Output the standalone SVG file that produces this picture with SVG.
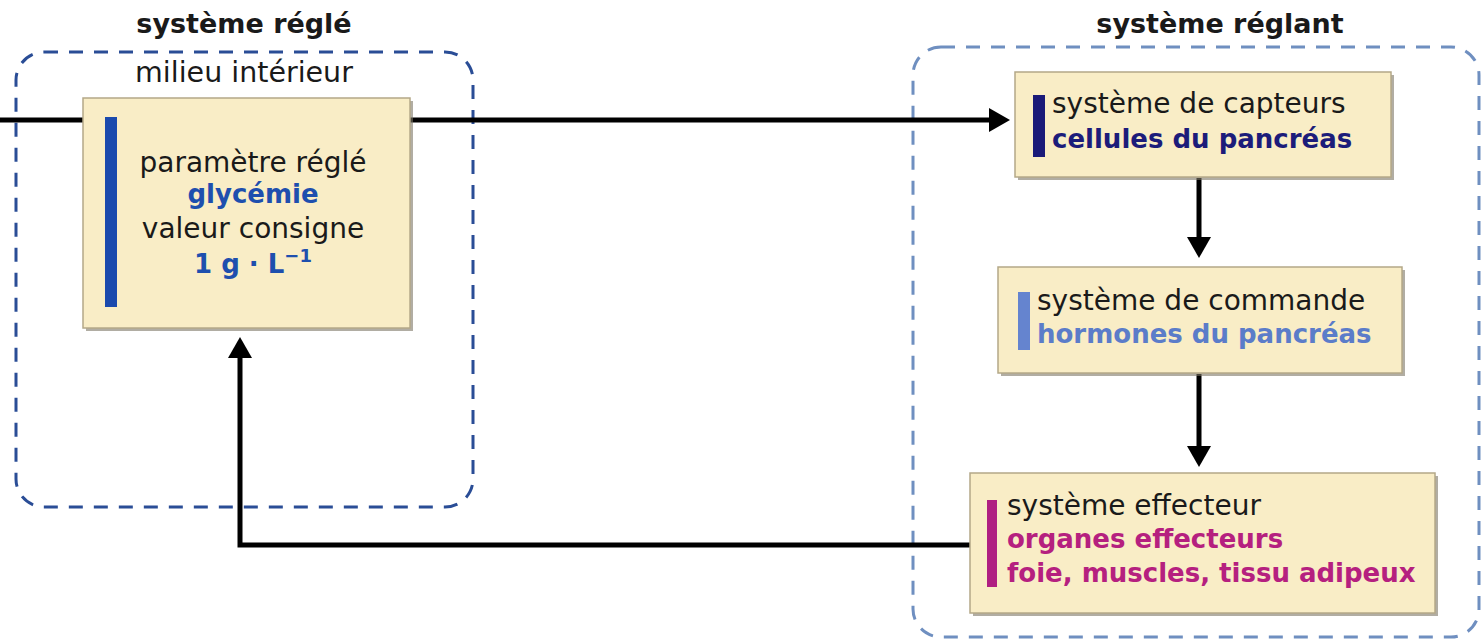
<svg xmlns="http://www.w3.org/2000/svg" width="1482" height="641" viewBox="0 0 1482 641">
<style>
text{font-family:"DejaVu Sans",sans-serif;font-size:28px;fill:#1a1a1a}
.b{font-weight:bold;font-size:26px}
.t{font-weight:bold;font-size:27px;fill:#1a1a1a}
.box{fill:#f9edc6;stroke:#b4a888;stroke-width:1.5}
.sh{fill:#7d7666;opacity:0.6}
.frame{fill:none;stroke-width:3;stroke-dasharray:14 11}
.con{fill:none;stroke:#000;stroke-width:5}
</style>
<defs>
<marker id="ah" viewBox="0 0 9 10" preserveAspectRatio="none" refX="0" refY="5" markerWidth="4.2" markerHeight="4.8" markerUnits="strokeWidth" orient="auto"><path d="M0,0 L9,5 L0,10 z" fill="#000"/></marker>
</defs>
<rect width="1482" height="641" fill="#fff"/>
<g id="frame-regle">
<rect class="frame" x="16" y="52" width="457" height="455" rx="28" stroke="#2a4d96"/>
<text class="t" x="244" y="33" text-anchor="middle">système réglé</text>
<text x="244" y="82" text-anchor="middle" style="font-size:28.5px">milieu intérieur</text>
</g>
<g id="frame-reglant">
<rect class="frame" x="913" y="47" width="566" height="590" rx="28" stroke="#6f8fc0"/>
<text class="t" x="1220" y="33" text-anchor="middle">système réglant</text>
</g>
<g id="connectors">
<line class="con" x1="0" y1="120" x2="84" y2="120"/>
<line class="con" x1="409" y1="120" x2="989" y2="120" marker-end="url(#ah)"/>
<line class="con" x1="1199" y1="178" x2="1199" y2="237" marker-end="url(#ah)"/>
<line class="con" x1="1199" y1="374" x2="1199" y2="446" marker-end="url(#ah)"/>
<polyline class="con" points="970,545 240,545 240,358" marker-end="url(#ah)"/>
</g>
<g id="node-parametre">
<rect class="sh" x="86" y="101" width="327" height="230"/>
<rect class="box" x="83" y="98" width="327" height="230"/>
<rect x="105" y="117" width="12" height="190" fill="#1b4aad"/>
<text x="253" y="172" text-anchor="middle">paramètre réglé</text>
<text class="b" x="253" y="203" text-anchor="middle" style="fill:#1e4fae">glycémie</text>
<text x="253" y="238" text-anchor="middle">valeur consigne</text>
<text class="b" x="253" y="273" text-anchor="middle" style="fill:#1e4fae">1 g · L<tspan dy="-11" font-size="18">−1</tspan></text>
</g>
<g id="node-capteurs">
<rect class="sh" x="1018" y="75" width="376" height="105"/>
<rect class="box" x="1015" y="72" width="376" height="105"/>
<rect x="1033" y="95" width="12" height="62" fill="#1a1a78"/>
<text x="1052" y="113">système de capteurs</text>
<text class="b" x="1052" y="148" style="fill:#1c1c7a">cellules du pancréas</text>
</g>
<g id="node-commande">
<rect class="sh" x="1001" y="270" width="404" height="106"/>
<rect class="box" x="998" y="267" width="404" height="106"/>
<rect x="1018" y="292" width="12" height="58" fill="#6584cf"/>
<text x="1037" y="310">système de commande</text>
<text class="b" x="1037" y="343" style="fill:#5b7cc9">hormones du pancréas</text>
</g>
<g id="node-effecteur">
<rect class="sh" x="973" y="476" width="465" height="140"/>
<rect class="box" x="970" y="473" width="465" height="140"/>
<rect x="987" y="500" width="10" height="87" fill="#b01f82"/>
<text x="1007" y="515">système effecteur</text>
<text class="b" x="1007" y="548" style="fill:#b5207f">organes effecteurs</text>
<text class="b" x="1007" y="582" style="fill:#b5207f">foie, muscles, tissu adipeux</text>
</g>
</svg>
